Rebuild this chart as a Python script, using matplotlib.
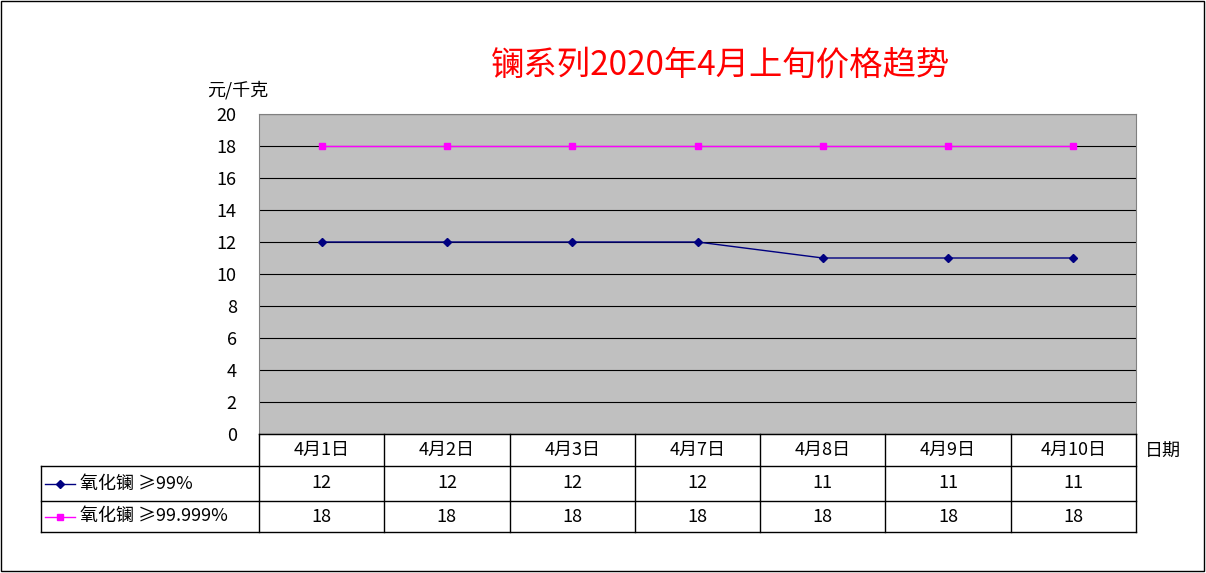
import matplotlib
matplotlib.use("Agg")
import matplotlib.pyplot as plt

plt.rcParams['font.family'] = ['Noto Sans CJK SC', 'DejaVu Sans']

dates = ['4月1日', '4月2日', '4月3日', '4月7日', '4月8日', '4月9日', '4月10日']
series_names = ['氧化镧 ≥99%', '氧化镧 ≥99.999%']
price_99 = [12, 12, 12, 12, 11, 11, 11]
price_99999 = [18, 18, 18, 18, 18, 18, 18]
colors = ['#000080', '#FF00FF']
markers = ['D', 's']

W, H = 1206, 573
fig = plt.figure(figsize=(W / 100, H / 100), dpi=100)

# plot area in pixels
px0, px1, py0, py1 = 259, 1136, 114, 434
ax = fig.add_axes([px0 / W, 1 - py1 / H, (px1 - px0) / W, (py1 - py0) / H])
ax.set_facecolor('#C0C0C0')
n = len(dates)
xs = [i + 0.5 for i in range(n)]
for vals, c, m in zip([price_99, price_99999], colors, markers):
    ax.plot(xs, vals, color=c, marker=m, markersize=4, linewidth=1)
ax.set_xlim(0, n)
ax.set_ylim(0, 20)
ax.set_yticks(range(0, 21, 2))
ax.tick_params(axis='y', labelsize=13, length=0, pad=16)
ax.set_xticks([])
ax.grid(axis='y', color='black', linewidth=0.8)
ax.set_axisbelow(True)
for s in ax.spines.values():
    s.set_color('#808080')

# overlay in pixel coordinates for table, title, labels
ov = fig.add_axes([0, 0, 1, 1])
ov.set_xlim(0, W)
ov.set_ylim(H, 0)
ov.axis('off')
ov.add_patch(plt.Rectangle((1, 1), W - 3, H - 3, fill=False, edgecolor='black', lw=1))
ov.text(720, 65, '镧系列2020年4月上旬价格趋势', color='red', fontsize=24, ha='center', va='center')
ov.text(238, 90, '元/千克', fontsize=13, ha='center', va='center')
ov.text(1163, 452, '日期', fontsize=13, ha='center', va='center')

colw = (px1 - px0) / n
rows = [434, 466, 501, 532]
tl = 41
# horizontal lines
ov.plot([px0, px1], [rows[0], rows[0]], color='black', lw=1)
for y in rows[1:]:
    ov.plot([tl, px1], [y, y], color='black', lw=1)
# vertical lines
ov.plot([tl, tl], [rows[1], rows[3]], color='black', lw=1)
for k in range(n + 1):
    ov.plot([px0 + k * colw] * 2, [rows[0], rows[3]], color='black', lw=1)

for i, d in enumerate(dates):
    cx = px0 + (i + 0.5) * colw
    ov.text(cx, (rows[0] + rows[1]) / 2, d, fontsize=13, ha='center', va='center')
    for r, vals in enumerate([price_99, price_99999]):
        ov.text(cx, (rows[r + 1] + rows[r + 2]) / 2, str(vals[i]), fontsize=13,
                ha='center', va='center')

for r, (name, c, m) in enumerate(zip(series_names, colors, markers)):
    cy = (rows[r + 1] + rows[r + 2]) / 2
    ov.plot([45, 75], [cy, cy], color=c, lw=1)
    ov.plot([60], [cy], color=c, marker=m, markersize=4)
    ov.text(80, cy, name, fontsize=13, ha='left', va='center')

fig.savefig('out.png', dpi=100)
